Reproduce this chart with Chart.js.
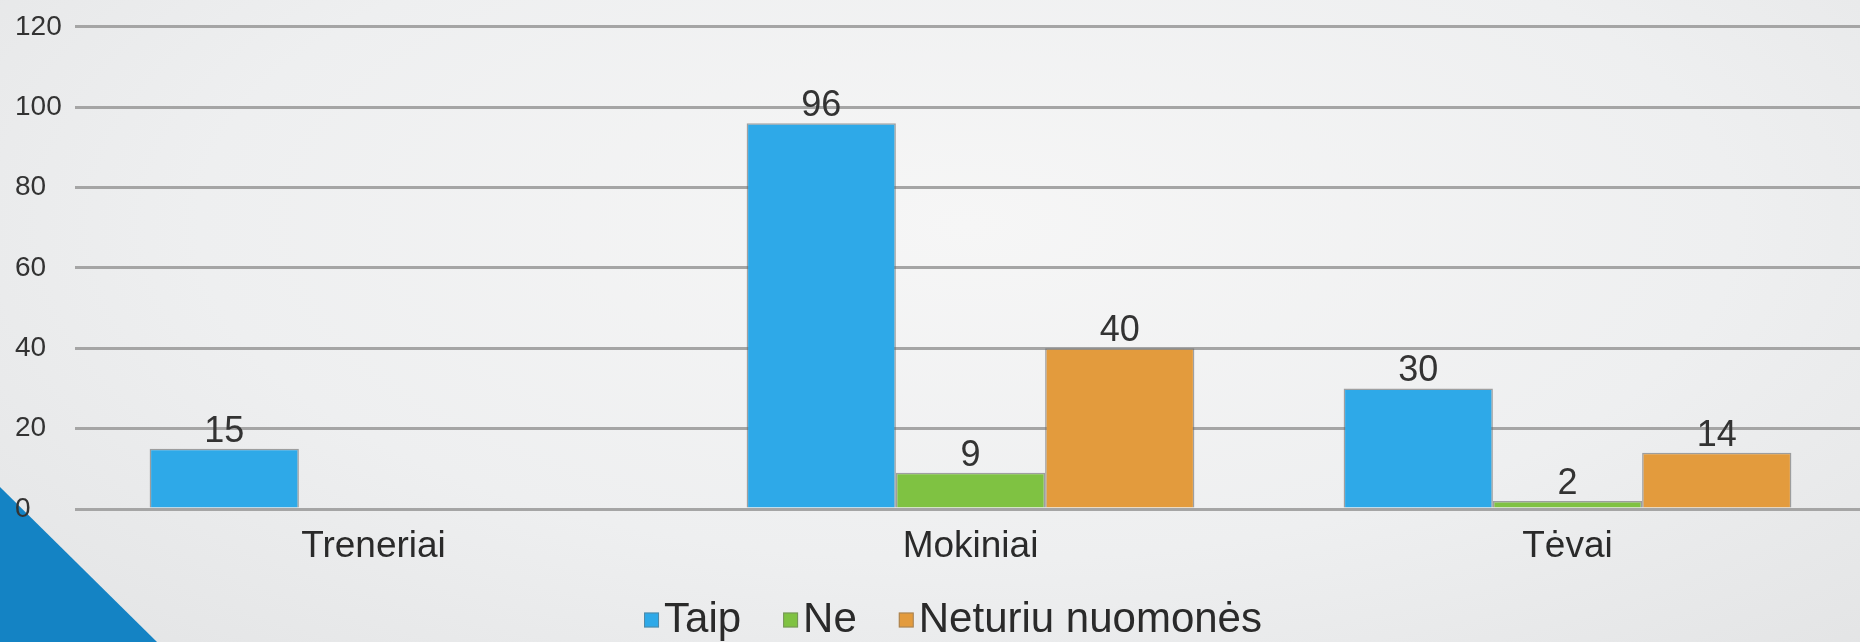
<!DOCTYPE html>
<html><head><meta charset="utf-8">
<script src="https://cdn.jsdelivr.net/npm/chart.js@4.4.1/dist/chart.umd.min.js"></script>
<style>
html,body{margin:0;padding:0;width:1860px;height:642px;overflow:hidden;}
body{position:relative;background:radial-gradient(ellipse 75% 95% at 52% 35%, #f6f6f6 0%, #eeeff0 55%, #e2e3e4 100%);}
#tri{position:absolute;left:0;top:0;width:1860px;height:642px;background:#1483c4;clip-path:polygon(0 487px,157px 642px,0 642px);}
#wrap{position:absolute;left:0;top:0;width:1866px;height:642px;}
</style></head><body>
<div id="tri"></div>
<div id="wrap"><canvas id="c" width="1866" height="642"></canvas></div>
<script>
const categories = ['Treneriai', 'Mokiniai', 'Tėvai'];
const seriesNames = ['Taip', 'Ne', 'Neturiu nuomonės'];
const taip = [15, 96, 30];
const ne = [null, 9, 2];
const neturiu = [null, 40, 14];
const yTicks = [0, 20, 40, 60, 80, 100, 120];
const seriesColors = ['#2ea9e8', '#7fc242', '#e39b3d'];

const FONT = '"Liberation Sans", Arial, sans-serif';
Chart.defaults.font.family = FONT;

const valueLabels = {
  id: 'valueLabels',
  afterDatasetsDraw(chart, args, opts) {
    const ctx = chart.ctx;
    ctx.save();
    ctx.font = opts.size + 'px ' + FONT;
    ctx.fillStyle = opts.color;
    ctx.textAlign = 'center';
    ctx.textBaseline = 'alphabetic';
    chart.data.datasets.forEach((ds, i) => {
      const meta = chart.getDatasetMeta(i);
      meta.data.forEach((bar, j) => {
        const v = ds.data[j];
        if (v === null || v === undefined) return;
        ctx.fillText(String(v), bar.x, bar.y - opts.offset);
      });
    });
    ctx.restore();
  }
};

const customLegend = {
  id: 'customLegend',
  afterDraw(chart, args, opts) {
    const ctx = chart.ctx;
    ctx.save();
    ctx.font = opts.size + 'px ' + FONT;
    const items = chart.data.datasets.map(d => ({text: d.label, color: d.backgroundColor, w: ctx.measureText(d.label).width}));
    const total = items.reduce((s, it) => s + opts.box + opts.boxGap + it.w, 0) + opts.itemGap * (items.length - 1);
    let x = opts.centerX - total / 2;
    ctx.textBaseline = 'middle';
    ctx.textAlign = 'left';
    items.forEach(it => {
      ctx.fillStyle = it.color;
      ctx.fillRect(x, opts.y - opts.box / 2, opts.box, opts.box);
      ctx.strokeStyle = 'rgba(110,110,110,0.55)';
      ctx.lineWidth = 1;
      ctx.strokeRect(x + 0.5, opts.y - opts.box / 2 + 0.5, opts.box - 1, opts.box - 1);
      x += opts.box + opts.boxGap;
      ctx.fillStyle = opts.color;
      ctx.fillText(it.text, x, opts.y);
      x += it.w + opts.itemGap;
    });
    ctx.restore();
  }
};

const seriesData = [taip, ne, neturiu];
new Chart(document.getElementById('c'), {
  type: 'bar',
  data: {
    labels: categories,
    datasets: seriesNames.map((name, i) => ({
      label: name,
      data: seriesData[i],
      backgroundColor: seriesColors[i],
      borderColor: 'rgba(105,105,105,0.6)',
      borderWidth: 1.5,
      categoryPercentage: 0.75,
      barPercentage: 1.0
    }))
  },
  options: {
    responsive: false,
    animation: false,
    layout: {padding: {left: 15, top: 25, right: 0, bottom: 0}},
    plugins: {
      legend: {display: false},
      tooltip: {enabled: false},
      valueLabels: {size: 36, color: '#333333', offset: 7},
      customLegend: {size: 42, color: '#2a2a2a', box: 15, boxGap: 5, itemGap: 42, centerX: 953, y: 620}
    },
    scales: {
      x: {
        grid: {display: false, drawTicks: false},
        border: {display: false},
        ticks: {color: '#2a2a2a', font: {size: 37}, padding: 16, maxRotation: 0, autoSkip: false},
        afterFit(scale) { scale.height = 133; }
      },
      y: {
        min: 0, max: 120,
        grid: {color: '#a5a5a5', lineWidth: 3, drawTicks: false},
        border: {display: false},
        ticks: {color: '#333333', font: {size: 28}, crossAlign: 'far', padding: 10},
        afterBuildTicks(scale) { scale.ticks = yTicks.map(v => ({value: v})); },
        afterFit(scale) { scale.width = 60; }
      }
    }
  },
  plugins: [valueLabels, customLegend]
});
</script>
</body></html>
